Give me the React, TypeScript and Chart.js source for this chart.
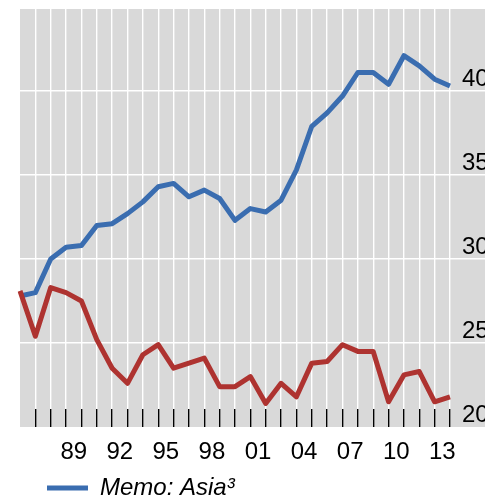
import React, { useEffect, useRef } from "react";
import { Chart, registerables } from "chart.js";

Chart.register(...registerables);

// ---- data ----
const years = [
  "85", "86", "87", "88", "89", "90", "91", "92", "93", "94",
  "95", "96", "97", "98", "99", "00", "01", "02", "03", "04",
  "05", "06", "07", "08", "09", "10", "11", "12", "13",
];
const shownYearLabels = ["89", "92", "95", "98", "01", "04", "07", "10", "13"];

const asiaMemo = [
  27.8, 28.0, 30.0, 30.7, 30.8, 32.0, 32.1, 32.7, 33.4, 34.3,
  34.5, 33.7, 34.1, 33.6, 32.3, 33.0, 32.8, 33.5, 35.3, 37.9,
  38.7, 39.7, 41.1, 41.1, 40.4, 42.1, 41.5, 40.7, 40.3,
];
const otherSeries = [
  28.1, 25.4, 28.3, 28.0, 27.5, 25.2, 23.5, 22.6, 24.3, 24.9,
  23.5, 23.8, 24.1, 22.4, 22.4, 23.0, 21.4, 22.6, 21.8, 23.8,
  23.9, 24.9, 24.5, 24.5, 21.5, 23.1, 23.3, 21.5, 21.8,
];
const yTicks = [20, 25, 30, 35, 40];
const yMin = 20;
const yMax = 44.88;

const BLUE = "#3A6DB0";
const RED = "#AE3330";
const GRAY = "#D9D9D9";
const FONT = "'Liberation Sans', Arial, sans-serif";

const plotBackground = {
  id: "plotBackground",
  beforeDraw(chart: any) {
    const { ctx, chartArea } = chart;
    ctx.save();
    ctx.fillStyle = GRAY;
    ctx.fillRect(
      chartArea.left,
      chartArea.top,
      chart.width - chartArea.left,
      chartArea.bottom - chartArea.top
    );
    ctx.restore();
  },
};

export default function App() {
  const ref = useRef<HTMLCanvasElement | null>(null);

  useEffect(() => {
    if (!ref.current) return;
    const chart = new Chart(ref.current, {
      type: "line",
      data: {
        labels: years,
        datasets: [
          {
            label: "Other",
            data: otherSeries,
            borderColor: RED,
            backgroundColor: RED,
            borderWidth: 5,
            pointRadius: 0,
            pointHoverRadius: 0,
            borderJoinStyle: "round",
            tension: 0,
          },
          {
            label: "Memo: Asia\u00B3",
            data: asiaMemo,
            borderColor: BLUE,
            backgroundColor: BLUE,
            borderWidth: 5,
            pointRadius: 0,
            pointHoverRadius: 0,
            pointBorderWidth: 5,
            pointBorderColor: BLUE,
            borderJoinStyle: "round",
            tension: 0,
          },
        ],
      },
      options: {
        responsive: false,
        animation: false,
        layout: { padding: { left: 20, top: 9, right: 0, bottom: 0 } },
        plugins: {
          tooltip: { enabled: false },
          legend: {
            position: "bottom",
            align: "start",
            labels: {
              usePointStyle: true,
              pointStyle: "line",
              pointStyleWidth: 41,
              padding: 27,
              color: "#000",
              font: { family: FONT, size: 24, style: "italic" },
              filter: (item: any) => item.datasetIndex === 1,
            },
          },
        },
        scales: {
          x: {
            type: "category",
            offset: false,
            border: { display: false },
            grid: {
              offset: false,
              color: (c: any) => (c.index === 0 ? "rgba(0,0,0,0)" : "#FFFFFF"),
              lineWidth: 1.4,
              tickColor: (c: any) => (c.index === 0 ? "rgba(0,0,0,0)" : "#000000"),
              tickWidth: 1.4,
              tickLength: -18,
            },
            ticks: {
              autoSkip: false,
              maxRotation: 0,
              minRotation: 0,
              mirror: true,
              padding: -40,
              labelOffset: -7.7,
              color: "#000",
              font: { family: FONT, size: 24 },
              callback: (_v: any, i: number) =>
                shownYearLabels.includes(years[i]) ? years[i] : "",
            },
            afterFit: (s: any) => {
              s.height = 22;
              s.paddingLeft = 0;
              s.paddingRight = 0;
            },
          },
          y: {
            type: "linear",
            position: "right",
            min: yMin,
            max: yMax,
            border: { display: false },
            grid: {
              color: (c: any) =>
                c.tick && c.tick.value === 20 ? "rgba(0,0,0,0)" : "#FFFFFF",
              tickColor: (c: any) =>
                c.tick && c.tick.value === 20 ? "rgba(0,0,0,0)" : "#FFFFFF",
              lineWidth: 1.4,
              tickWidth: 1.4,
              tickLength: 40,
            },
            ticks: {
              padding: -28,
              labelOffset: -11.5,
              color: "#000",
              font: { family: FONT, size: 24 },
              callback: (v: any) => String(v),
            },
            afterBuildTicks: (s: any) => {
              s.ticks = yTicks.map((v) => ({ value: v }));
            },
            afterFit: (s: any) => {
              s.width = 35;
              s.paddingTop = 0;
              s.paddingBottom = 0;
            },
          },
        },
      },
      plugins: [plotBackground],
    });
    return () => chart.destroy();
  }, []);

  return (
    <div
      style={{
        position: "fixed",
        left: 0,
        top: 0,
        width: 485,
        height: 510,
        background: "#fff",
      }}
    >
      <canvas ref={ref} width={485} height={510} style={{ display: "block" }} />
    </div>
  );
}
